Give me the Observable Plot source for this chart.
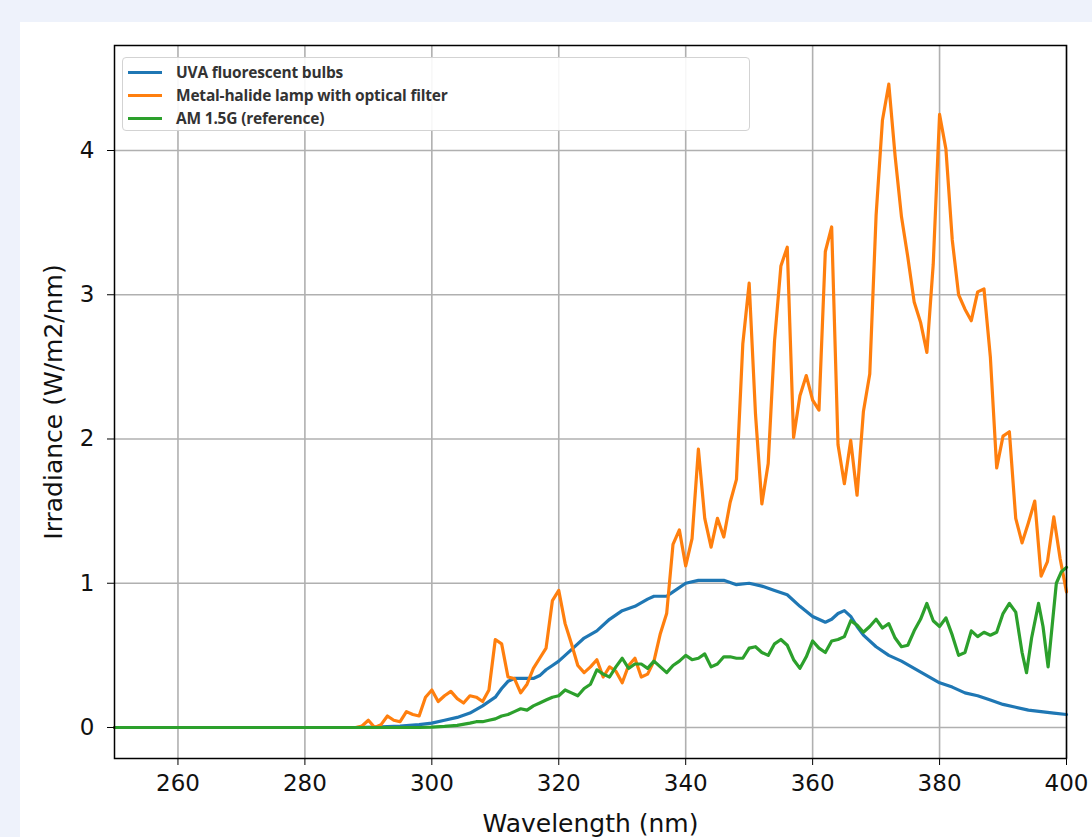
<!DOCTYPE html>
<html><head><meta charset="utf-8">
<script src="https://cdn.jsdelivr.net/npm/d3@7"></script>
<script src="https://cdn.jsdelivr.net/npm/@observablehq/plot@0.6"></script>
<style>
body{margin:0;background:#eef2fb;width:1092px;height:837px;overflow:hidden;position:relative;font-family:"DejaVu Sans",sans-serif}
#card{position:absolute;left:20px;top:22px;width:1072px;height:815px;background:#fff}
#chart{position:absolute;left:0;top:0}
#legend{position:absolute;left:122px;top:57px;width:628px;height:74px;box-sizing:border-box;border:1px solid #d3d3d3;border-radius:4px;background:rgba(255,255,255,0.9);font-family:"Open Sans",sans-serif;font-weight:700;font-size:15.5px;color:#333;letter-spacing:-0.2px}
.row{position:absolute;left:5px;height:20px;display:flex;align-items:center;white-space:nowrap}
.sw{width:34px;height:3px;margin-right:14px}
[aria-label="x-axis label"],[aria-label="y-axis label"]{font-size:25px}
</style>
</head><body>
<div id="card"></div>
<div id="chart"></div>
<div id="legend"></div>
<script>
// Series names and colours
const seriesNames = ["UVA fluorescent bulbs", "Metal-halide lamp with optical filter", "AM 1.5G (reference)"];
const seriesColors = ["#1f77b4", "#ff7f0e", "#2ca02c"];
const xTicks = [260, 280, 300, 320, 340, 360, 380, 400];
const yTicks = [0, 1, 2, 3, 4];

// UVA fluorescent bulbs
const uvaWl = [250,288,292,295,298,300,302,304,306,308,310,311,312,313,315,316,317,318,319,320,322,324,326,328,330,332,334,335,337,338,340,342,344,346,348,350,352,354,356,358,360,362,363,364,365,366,367,368,370,372,374,376,378,380,382,384,386,388,390,392,394,396,398,400];
const uvaIrr = [0,0,0.005,0.01,0.02,0.03,0.05,0.07,0.10,0.15,0.21,0.27,0.32,0.34,0.34,0.34,0.36,0.40,0.43,0.46,0.54,0.62,0.67,0.75,0.81,0.84,0.89,0.91,0.91,0.94,1.00,1.02,1.02,1.02,0.99,1.00,0.98,0.95,0.92,0.84,0.77,0.73,0.75,0.79,0.81,0.77,0.70,0.64,0.56,0.50,0.46,0.41,0.36,0.31,0.28,0.24,0.22,0.19,0.16,0.14,0.12,0.11,0.10,0.09];

// Metal-halide lamp with optical filter
const mhWl = [250,288,289,290,291,292,293,294,295,296,297,298,299,300,301,302,303,304,305,306,307,308,309,310,311,312,313,314,315,316,317,318,319,320,321,322,323,324,325,326,327,328,329,330,331,332,333,334,335,336,337,338,339,340,341,342,343,344,345,346,347,348,349,350,351,352,353,354,355,356,357,358,359,360,361,362,363,364,365,366,367,368,369,370,371,372,373,374,375,376,377,378,379,380,381,382,383,384,385,386,387,388,389,390,391,392,393,394,395,396,397,398,399,400];
const mhIrr = [0,0,0.01,0.05,0.00,0.02,0.08,0.05,0.04,0.11,0.09,0.08,0.21,0.26,0.18,0.22,0.25,0.20,0.17,0.22,0.21,0.18,0.26,0.61,0.58,0.35,0.34,0.24,0.30,0.41,0.48,0.55,0.88,0.95,0.72,0.58,0.43,0.38,0.42,0.47,0.35,0.42,0.39,0.31,0.43,0.48,0.35,0.37,0.46,0.65,0.79,1.27,1.37,1.12,1.31,1.93,1.45,1.25,1.45,1.32,1.56,1.72,2.66,3.08,2.17,1.55,1.83,2.68,3.20,3.33,2.01,2.30,2.44,2.27,2.20,3.30,3.47,1.96,1.69,1.99,1.61,2.19,2.45,3.55,4.21,4.46,3.96,3.54,3.26,2.95,2.81,2.60,3.21,4.25,4.01,3.38,3.00,2.90,2.82,3.02,3.04,2.57,1.80,2.02,2.05,1.45,1.28,1.42,1.57,1.05,1.15,1.46,1.17,0.94];

// AM 1.5G (reference)
const amWl = [250,298,300,302,304,306,307,308,309,310,311,312,313,314,315,316,317,318,319,320,321,322,323,324,325,326,327,328,329,330,331,332,333,334,335,336,337,338,339,340,341,342,343,344,345,346,347,348,349,350,351,352,353,354,355,356,357,358,359,360,361,362,363,364,365,366,367,368,369,370,371,372,373,374,375,376,377,378,379,380,381,382,383,384,385,386,387,388,389,390,391,392,393,393.7,394.5,395.6,396.3,397.1,398.4,399.2,400];
const amIrr = [0,0,0.003,0.008,0.015,0.03,0.04,0.04,0.05,0.06,0.08,0.09,0.11,0.13,0.12,0.15,0.17,0.19,0.21,0.22,0.26,0.24,0.22,0.27,0.30,0.40,0.37,0.35,0.42,0.48,0.41,0.44,0.44,0.41,0.46,0.42,0.38,0.43,0.46,0.50,0.47,0.48,0.51,0.42,0.44,0.49,0.49,0.48,0.48,0.55,0.56,0.52,0.50,0.58,0.61,0.57,0.47,0.41,0.49,0.60,0.55,0.52,0.60,0.61,0.63,0.74,0.71,0.66,0.70,0.75,0.69,0.72,0.62,0.56,0.57,0.67,0.75,0.86,0.74,0.70,0.76,0.64,0.50,0.52,0.67,0.63,0.66,0.64,0.66,0.79,0.86,0.80,0.52,0.38,0.62,0.86,0.70,0.42,1.00,1.08,1.11];

const rows = (wl, irr, s) => wl.map((w, i) => ({w, v: irr[i], s}));
const data = [
  ...rows(uvaWl, uvaIrr, seriesNames[0]),
  ...rows(mhWl, mhIrr, seriesNames[1]),
  ...rows(amWl, amIrr, seriesNames[2])
];

const chart = Plot.plot({
  width: 1092, height: 837,
  marginLeft: 114, marginRight: 26, marginTop: 45, marginBottom: 79,
  style: {background: "transparent", fontFamily: "DejaVu Sans, sans-serif", fontSize: "23px", color: "#111"},
  x: {domain: [250, 400], label: "Wavelength (nm)"},
  y: {domain: [-0.215, 4.728], label: "Irradiance (W/m2/nm)"},
  color: {domain: seriesNames, range: seriesColors},
  marks: [
    Plot.gridX(xTicks, {stroke: "#b0b0b0", strokeOpacity: 1, strokeWidth: 1.6}),
    Plot.gridY(yTicks, {stroke: "#b0b0b0", strokeOpacity: 1, strokeWidth: 1.6}),
    Plot.line(data, {x: "w", y: "v", z: "s", stroke: "s", strokeWidth: 3.2, strokeLinejoin: "round"}),
    Plot.frame({stroke: "#000", strokeWidth: 1.5}),
    Plot.axisX({ticks: xTicks, tickSize: 7, tickPadding: 9, tickFormat: d => String(d), label: "Wavelength (nm)", labelAnchor: "center", labelArrow: "none", labelOffset: 73, stroke: "#000"}),
    Plot.axisY({ticks: yTicks, tickSize: 7, tickPadding: 13, tickFormat: d => String(d), label: "Irradiance (W/m2/nm)", labelAnchor: "center", labelOffset: 70, labelArrow: "none", stroke: "#000"})
  ]
});
document.getElementById("chart").appendChild(chart);

const legend = document.getElementById("legend");
seriesNames.forEach((name, i) => {
  const row = document.createElement("div");
  row.className = "row";
  row.style.top = (4 + i * 23) + "px";
  const sw = document.createElement("div");
  sw.className = "sw";
  sw.style.background = seriesColors[i];
  const t = document.createElement("span");
  t.textContent = name;
  row.appendChild(sw);
  row.appendChild(t);
  legend.appendChild(row);
});
</script>
</body></html>
